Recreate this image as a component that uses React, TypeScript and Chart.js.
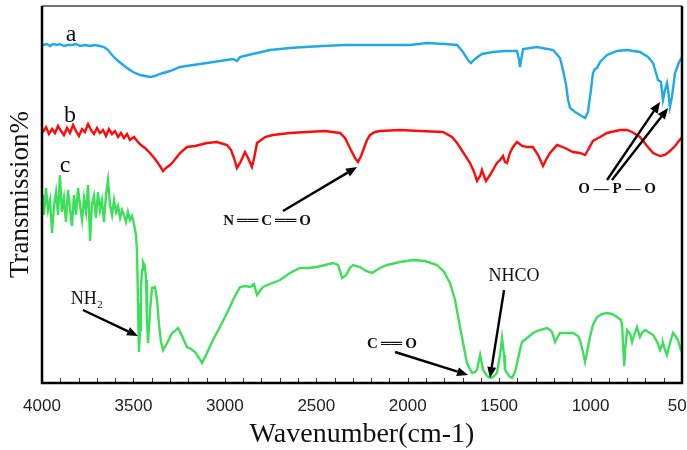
import React, { useEffect, useRef } from "react";
import { Chart, registerables } from "chart.js";

Chart.register(...registerables);

// ---- data (wavenumber in cm-1, transmission in arbitrary units, curves offset) ----
const aWave = [3995,3973,3956,3940,3918,3902,3880,3858,3836,3814,3792,3765,3737,3710,3683,3661,3639,3617,3590,3563,3535,3502,3464,3437,3409,3382,3355,3300,3245,3174,3098,3027,2955,2934,2917,2873,2824,2753,2644,2562,2463,2343,2206,2097,1987,1894,1796,1730,1698,1670,1654,1632,1610,1594,1534,1468,1402,1391,1386,1380,1369,1293,1205,1167,1151,1134,1123,1112,1085,1058,1030,1014,998,987,976,965,948,910,855,801,730,686,658,631,615,604,593,582,576,566,555,538,516,500];
const aTrans = [338,339,337,339,338,339,337,338,338,339,337,338,337,338,337,336,333,328,323,319,315,311,308,307,306,307,309,312,316,318,320,322,324,322,326,328,330,333,335,336,337,338,338,338,338,340,339,338,331,323,320,324,327,329,331,332,332,323,316,323,334,336,333,325,313,298,283,275,271,268,265,271,293,310,314,315,321,328,332,333,331,326,320,303,301,283,293,300,293,276,286,310,321,326];

const bWave = [3995,3978,3962,3945,3929,3912,3896,3880,3863,3847,3830,3814,3798,3781,3765,3748,3732,3716,3699,3683,3666,3650,3634,3617,3601,3584,3568,3552,3535,3519,3497,3480,3459,3437,3409,3382,3355,3338,3322,3300,3284,3245,3207,3163,3098,3043,2988,2966,2950,2934,2917,2890,2873,2852,2840,2824,2780,2737,2644,2551,2453,2370,2343,2316,2288,2272,2255,2239,2223,2206,2179,2151,2042,1932,1807,1758,1730,1698,1659,1637,1621,1604,1594,1583,1572,1550,1528,1512,1495,1479,1468,1457,1441,1424,1402,1375,1347,1315,1287,1260,1244,1222,1183,1140,1096,1058,1030,1014,987,948,910,839,801,773,730,691,658,620,593,566,538,500];
const bTrans = [251,256,249,254,250,257,252,248,255,250,258,252,247,254,251,259,253,249,255,250,253,247,254,249,252,246,250,245,249,243,246,242,238,235,230,224,217,212,215,218,221,230,236,237,240,241,238,233,225,215,220,231,225,216,225,240,246,248,250,251,252,250,245,235,225,221,227,235,243,248,251,252,253,252,251,246,240,231,220,211,202,207,213,207,202,208,215,220,223,227,221,220,230,236,241,237,236,236,228,217,223,230,238,235,231,230,228,233,242,246,250,253,253,251,246,237,230,227,228,232,237,246];

const cWave = [3995,3989,3978,3967,3956,3945,3934,3923,3912,3902,3891,3880,3869,3858,3847,3836,3825,3814,3803,3792,3781,3770,3759,3748,3737,3727,3716,3705,3694,3683,3672,3661,3650,3639,3628,3617,3606,3595,3584,3573,3562,3552,3541,3530,3519,3508,3497,3486,3480,3475,3470,3464,3459,3453,3448,3437,3431,3426,3420,3409,3398,3382,3371,3360,3349,3338,3316,3289,3273,3256,3234,3207,3185,3163,3141,3125,3103,3065,3027,2988,2950,2917,2890,2862,2841,2824,2808,2791,2753,2698,2644,2589,2545,2496,2452,2409,2381,2359,2337,2316,2299,2261,2228,2195,2151,2113,2042,1971,1905,1840,1801,1769,1741,1714,1692,1676,1648,1632,1621,1604,1588,1566,1550,1533,1512,1495,1484,1473,1468,1446,1430,1413,1402,1386,1375,1347,1315,1276,1238,1222,1211,1194,1183,1167,1129,1096,1069,1058,1041,1030,1019,1003,987,965,937,910,883,855,833,827,822,816,811,800,783,773,762,746,730,719,702,675,658,636,620,609,604,593,582,566,549,533,522,506,500];
const cTrans = [188,168,195,173,183,150,178,191,168,208,171,185,161,193,175,157,188,168,195,178,163,185,171,198,142,178,187,165,191,173,183,161,188,203,178,168,183,171,177,165,173,168,161,171,163,167,159,148,130,80,31,53,93,113,121,117,103,63,40,73,95,96,83,58,41,33,40,50,52,55,47,36,34,31,25,20,28,43,56,70,85,96,97,96,99,88,92,96,99,103,110,115,115,116,118,120,118,105,108,115,118,116,112,110,115,118,121,123,122,118,111,100,83,56,35,20,10,11,13,28,13,7,5,6,10,28,45,28,13,7,5,11,20,33,41,45,50,53,55,53,51,41,45,50,50,50,47,43,31,21,31,46,58,66,69,70,69,66,63,56,38,17,33,53,49,41,48,56,46,50,53,50,48,41,33,38,40,33,28,40,50,46,43,33,31];

const seriesNames = ["a", "b", "c"];
const seriesColors = ["#1fa9e6", "#ff0a0a", "#3ddf5a"];

const xMin = 500;
const xMax = 4000;
const xStep = 500;
const minorStep = 100;
const yMin = 0;
const yMax = 377;

// annotations in data units: [text, wavenumber, transmission, font]
const SERIF = "'Liberation Serif', 'Times New Roman', serif";
const labelNotes: [string, number, number, string][] = [
  ["a", 3841, 348, `24px ${SERIF}`],
  ["b", 3847, 267, `24px ${SERIF}`],
  ["c", 3874, 217, `24px ${SERIF}`],
  ["N\u2009\u2550\u2550\u2009C\u2009\u2550\u2550\u2009O", 2769, 162, `bold 15px ${SERIF}`],
  ["O \u2014 P \u2014 O", 855, 194, `bold 15px ${SERIF}`],
  ["NH\u2082", 3754, 84, `18px ${SERIF}`],
  ["NHCO", 1419, 107, `18px ${SERIF}`],
  ["C\u2009\u2550\u2550\u2009O", 2086, 39, `bold 15px ${SERIF}`],
];
// arrows: [fromWave, fromTrans, toWave, toTrans]
const arrowNotes: [number, number, number, number][] = [
  [2682, 172, 2277, 216],
  [910, 203, 620, 281],
  [883, 203, 576, 275],
  [3776, 73, 3475, 47],
  [1473, 93, 1550, 5],
  [2069, 31, 1670, 8],
];

const overlayPlugin = {
  id: "overlay",
  afterDraw(chart: any) {
    const { ctx, chartArea: ca, scales } = chart;
    const xs = scales.x;
    const ys = scales.y;
    ctx.save();
    // inward tick marks
    ctx.strokeStyle = "#333";
    ctx.lineWidth = 1;
    for (let w = xMin; w <= xMax; w += minorStep) {
      const px = Math.round(xs.getPixelForValue(w)) + 0.5;
      ctx.beginPath();
      ctx.moveTo(px, ca.bottom);
      ctx.lineTo(px, ca.bottom - 5);
      ctx.stroke();
    }
    // frame
    ctx.strokeStyle = "#444";
    ctx.lineWidth = 1.5;
    ctx.beginPath();
    ctx.moveTo(ca.left, ca.top);
    ctx.lineTo(ca.right, ca.top);
    ctx.stroke();
    ctx.strokeStyle = "#000";
    ctx.lineWidth = 2.5;
    ctx.beginPath();
    ctx.moveTo(ca.left, ca.top);
    ctx.lineTo(ca.left, ca.bottom);
    ctx.lineTo(ca.right, ca.bottom);
    ctx.lineTo(ca.right, ca.top);
    ctx.stroke();

    // arrows
    ctx.fillStyle = "#000";
    ctx.strokeStyle = "#000";
    for (const [w1, t1, w2, t2] of arrowNotes) {
      const x1 = xs.getPixelForValue(w1);
      const y1 = ys.getPixelForValue(t1);
      const x2 = xs.getPixelForValue(w2);
      const y2 = ys.getPixelForValue(t2);
      const ang = Math.atan2(y2 - y1, x2 - x1);
      const hl = 11;
      const hw = 4.5;
      const bx = x2 - hl * Math.cos(ang);
      const by = y2 - hl * Math.sin(ang);
      ctx.lineWidth = 2.4;
      ctx.beginPath();
      ctx.moveTo(x1, y1);
      ctx.lineTo(bx, by);
      ctx.stroke();
      ctx.beginPath();
      ctx.moveTo(x2, y2);
      ctx.lineTo(bx + hw * Math.sin(ang), by - hw * Math.cos(ang));
      ctx.lineTo(bx - hw * Math.sin(ang), by + hw * Math.cos(ang));
      ctx.closePath();
      ctx.fill();
    }

    // texts
    ctx.textAlign = "center";
    ctx.textBaseline = "middle";
    ctx.fillStyle = "#111";
    for (const [text, w, t, font] of labelNotes) {
      ctx.font = font;
      ctx.fillText(text, xs.getPixelForValue(w), ys.getPixelForValue(t));
    }
    ctx.restore();
  },
};

export default function App() {
  const canvasRef = useRef<HTMLCanvasElement | null>(null);

  useEffect(() => {
    const canvas = canvasRef.current;
    if (!canvas) return;
    const waves = [aWave, bWave, cWave];
    const trans = [aTrans, bTrans, cTrans];
    const chart = new Chart(canvas, {
      type: "line",
      data: {
        datasets: seriesNames.map((name, k) => ({
          label: name,
          data: waves[k].map((w, i) => ({ x: w, y: trans[k][i] })),
          borderColor: seriesColors[k],
          backgroundColor: seriesColors[k],
          borderWidth: 2.4,
          pointRadius: 0,
          tension: 0,
          fill: false,
        })),
      },
      options: {
        responsive: false,
        animation: false,
        devicePixelRatio: 1,
        layout: { padding: { top: 6, right: 5, left: 0, bottom: 0 } },
        plugins: {
          legend: { display: false },
          tooltip: { enabled: false },
        },
        scales: {
          x: {
            type: "linear",
            reverse: true,
            min: xMin,
            max: xMax,
            grid: { display: false, drawTicks: false },
            border: { display: false },
            ticks: {
              stepSize: xStep,
              padding: 13,
              color: "#222",
              font: { family: "'Liberation Sans', Arial, sans-serif", size: 17 },
              maxRotation: 0,
              autoSkip: false,
              callback: (v: any) => String(v),
            },
            title: {
              display: true,
              text: "Wavenumber(cm-1)",
              color: "#111",
              font: { family: SERIF, size: 28, lineHeight: 1 },
              padding: { top: 0, bottom: 1 },
            },
            afterFit: (scale: any) => {
              scale.height = 67;
              scale.paddingLeft = 0;
              scale.paddingRight = 0;
            },
          } as any,
          y: {
            type: "linear",
            min: yMin,
            max: yMax,
            grid: { display: false, drawTicks: false },
            border: { display: false },
            ticks: { display: false },
            title: {
              display: true,
              text: "Transmission%",
              color: "#111",
              font: { family: SERIF, size: 27, lineHeight: 1 },
              padding: { top: 7, bottom: 0 },
            },
            afterFit: (scale: any) => {
              scale.width = 42;
              scale.paddingTop = 0;
              scale.paddingBottom = 0;
            },
          } as any,
        },
      },
      plugins: [overlayPlugin],
    });
    return () => chart.destroy();
  }, []);

  return (
    <div style={{ position: "absolute", left: 0, top: 0, width: 687, height: 450, background: "#fff" }}>
      <canvas ref={canvasRef} width={687} height={450} />
    </div>
  );
}
